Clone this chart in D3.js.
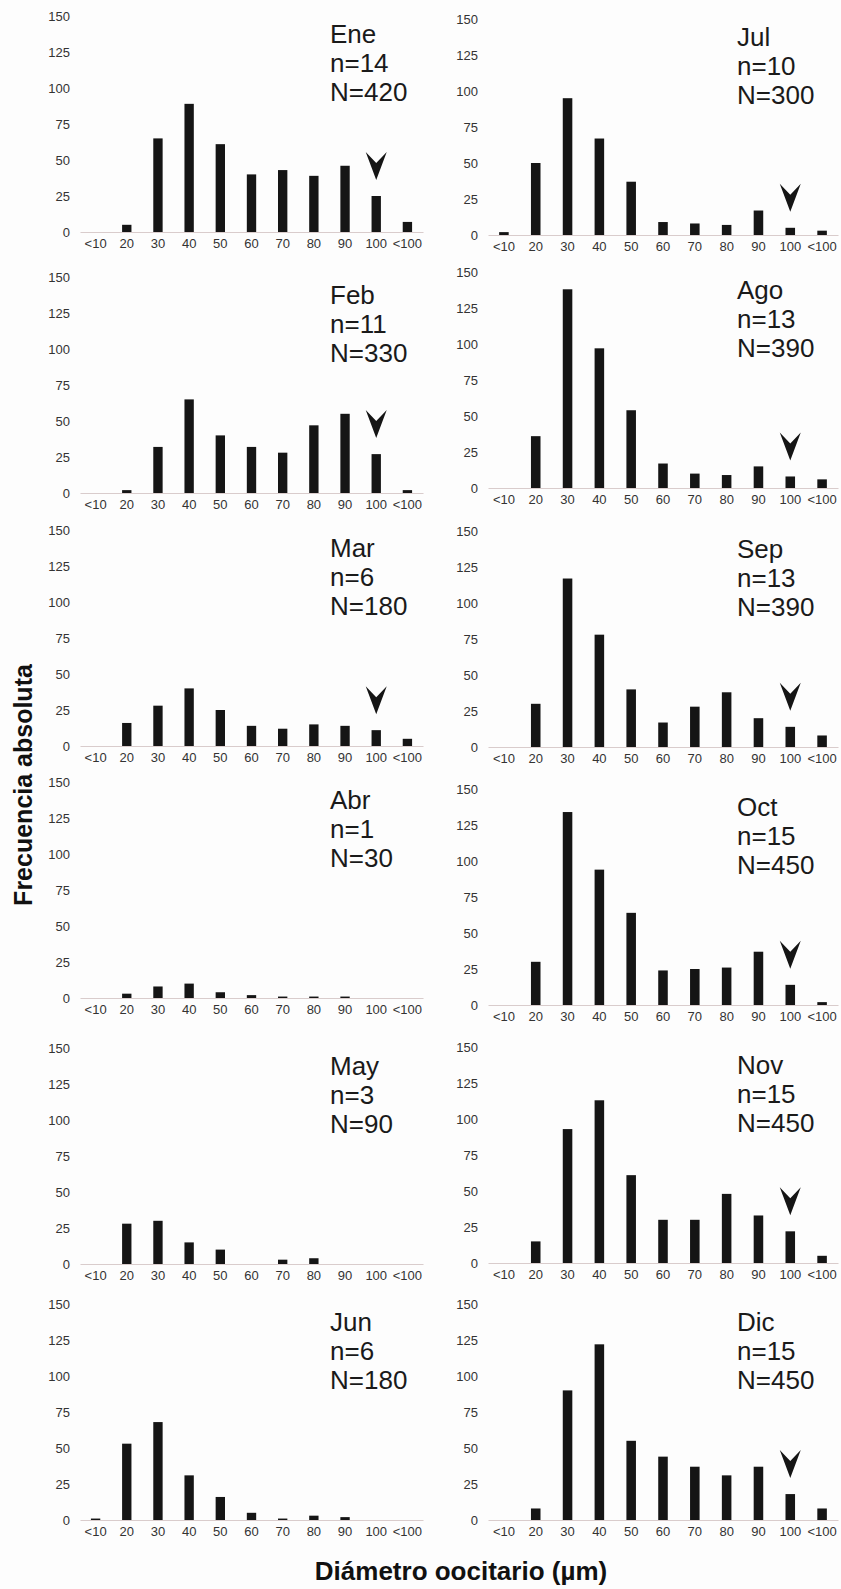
<!DOCTYPE html>
<html>
<head>
<meta charset="utf-8">
<script src="https://cdn.jsdelivr.net/npm/d3@7"></script>
<style>
  body { margin: 0; background: #fdfdfd; }
  text { font-family: "Liberation Sans", Arial, sans-serif; }
</style>
</head>
<body>
<script>
// size classes of oocyte diameter (um)
const sizeClasses = ["<10", "20", "30", "40", "50", "60", "70", "80", "90", "100", "<100"];
const yTicks = [0, 25, 50, 75, 100, 125, 150];
const months = ["Ene", "Feb", "Mar", "Abr", "May", "Jun", "Jul", "Ago", "Sep", "Oct", "Nov", "Dic"];
const nFish = [14, 11, 6, 1, 3, 6, 10, 13, 13, 15, 15, 15];
const nOocytes = [420, 330, 180, 30, 90, 180, 300, 390, 390, 450, 450, 450];
// arrow over the 100 class
const hasArrow = [true, true, true, false, false, false, true, true, true, true, true, true];

const ene = [0, 5, 65, 89, 61, 40, 43, 39, 46, 25, 7];
const feb = [0, 2, 32, 65, 40, 32, 28, 47, 55, 27, 2];
const mar = [0, 16, 28, 40, 25, 14, 12, 15, 14, 11, 5];
const abr = [0, 3, 8, 10, 4, 2, 1, 1, 1, 0, 0];
const may = [0, 28, 30, 15, 10, 0, 3, 4, 0, 0, 0];
const jun = [1, 53, 68, 31, 16, 5, 1, 3, 2, 0, 0];
const jul = [2, 50, 95, 67, 37, 9, 8, 7, 17, 5, 3];
const ago = [0, 36, 138, 97, 54, 17, 10, 9, 15, 8, 6];
const sep = [0, 30, 117, 78, 40, 17, 28, 38, 20, 14, 8];
const oct = [0, 30, 134, 94, 64, 24, 25, 26, 37, 14, 2];
const nov = [0, 15, 93, 113, 61, 30, 30, 48, 33, 22, 5];
const dic = [0, 8, 90, 122, 55, 44, 37, 31, 37, 18, 8];
const counts = [ene, feb, mar, abr, may, jun, jul, ago, sep, oct, nov, dic];

var W = 841, H = 1589;
var svg = d3.select("body").append("svg")
    .attr("width", W)
    .attr("height", H);

// layout: baseline of each row, left and right columns
var baseLeft = [232, 493, 746, 998, 1264, 1520];
var baseRight = [235, 488, 747, 1005, 1263, 1520];
var plotH = 216;

function drawPanel(i) {
    let col = i < 6 ? 0 : 1;
    let row = i % 6;
    let base = col == 0 ? baseLeft[row] : baseRight[row];
    let x0 = col == 0 ? 80 : 488;
    let x1 = col == 0 ? 423 : 838;
    let values = counts[i];

    let x = d3.scaleBand()
        .domain(sizeClasses)
        .range([x0, x1])
        .paddingInner(0.7)
        .paddingOuter(0.35);
    let y = d3.scaleLinear()
        .domain([0, 150])
        .range([base, base - plotH]);

    let g = svg.append("g");

    let ya = g.append("g")
        .attr("transform", "translate(" + x0 + ",0)")
        .call(d3.axisLeft(y).tickValues(yTicks).tickSize(0).tickPadding(10));
    ya.select(".domain").remove();
    ya.selectAll("text")
        .style("font-size", "13px")
        .style("font-family", "'Liberation Sans', Arial, sans-serif")
        .attr("fill", "#333");

    let xa = g.append("g")
        .attr("transform", "translate(0," + base + ")")
        .call(d3.axisBottom(x).tickSize(0).tickSizeOuter(0).tickPadding(7));
    xa.select(".domain")
        .attr("stroke", "#d9cccc")
        .attr("stroke-width", 1.2);
    xa.selectAll("text")
        .style("font-size", "13px")
        .style("font-family", "'Liberation Sans', Arial, sans-serif")
        .attr("fill", "#333");

    g.selectAll(".bar")
        .data(values)
        .enter()
        .append("rect")
        .attr("class", "bar")
        .attr("x", (d, k) => x(sizeClasses[k]))
        .attr("y", d => y(d))
        .attr("width", x.bandwidth())
        .attr("height", d => y(0) - y(d))
        .attr("fill", "#151515");

    if (hasArrow[i]) {
        let ax = x("100") + x.bandwidth() / 2;
        let ay = y(values[9]) - 16;
        g.append("path")
            .attr("d", "M" + ax + "," + ay + " l-10.5,-28 l10.5,11 l10.5,-11 z")
            .attr("fill", "#151515");
    }

    let tx = col == 0 ? 330 : 737;
    let lines = [months[i], "n=" + nFish[i], "N=" + nOocytes[i]];
    g.selectAll(".lab")
        .data(lines)
        .enter()
        .append("text")
        .attr("x", tx)
        .attr("y", (d, k) => base - 189 + k * 29)
        .style("font-size", "26px")
        .attr("fill", "#1a1a1a")
        .text(d => d);
}

for (var i = 0; i < 12; i++) {
    drawPanel(i);
}

svg.append("text")
    .attr("transform", "translate(32,785) rotate(-90)")
    .attr("text-anchor", "middle")
    .style("font-size", "25px")
    .style("font-weight", "bold")
    .attr("fill", "#111")
    .text("Frecuencia absoluta");

svg.append("text")
    .attr("x", 461)
    .attr("y", 1580)
    .attr("text-anchor", "middle")
    .style("font-size", "26px")
    .style("font-weight", "bold")
    .attr("fill", "#111")
    .text("Diámetro oocitario (µm)");
</script>
</body>
</html>
